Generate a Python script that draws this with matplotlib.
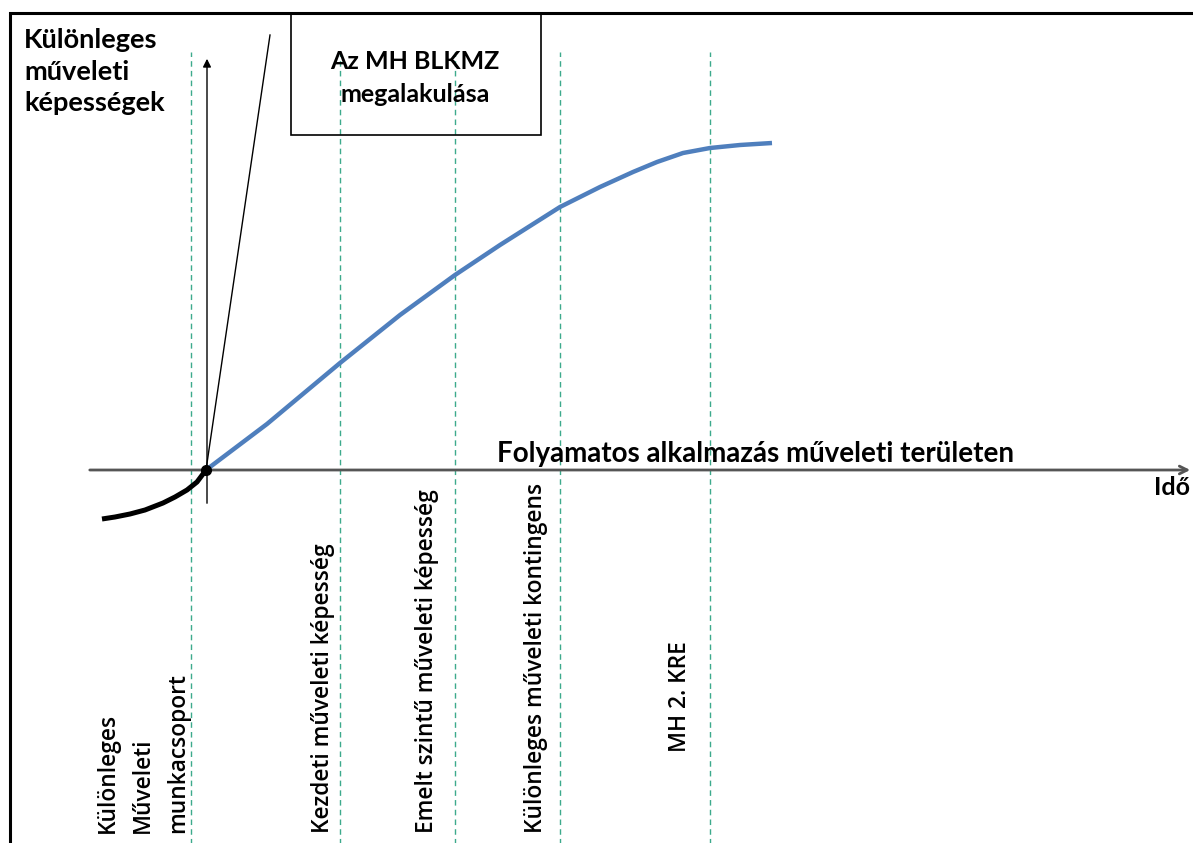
import matplotlib
matplotlib.use("Agg")
import matplotlib.pyplot as plt
from matplotlib.patches import Rectangle

# kepesseg-gorbe (ido, kepesseg), origo = a tengelyek metszespontja
ido = [0, 61, 134, 194, 249, 294, 324, 354, 394, 427, 451, 477, 504, 534, 566]
kepesseg = [0, 46, 107, 155, 195, 225, 244, 263, 283, 298, 308, 317, 322, 325, 327]

# elozmeny szakasz (fekete gorbe)
elozo_ido = [-104, -91, -76, -61, -43, -31, -19, -9, 0]
elozo_kep = [-49, -47, -44, -40, -33, -27, -20, -12, 0]

# merfoldkovek
merfold_x = [-15, 134, 249, 354, 504]
merfold_cimkek = [
    "Különleges\nMűveleti\nmunkacsoport",
    "Kezdeti műveleti képesség",
    "Emelt szintű műveleti képesség",
    "Különleges műveleti kontingens",
    "MH 2. KRE",
]
cimke_x = [-63, 117, 221, 330, 474]
cimke_alj = [-363, -363, -363, -363, -282]

fig = plt.figure(figsize=(11.93, 8.43), dpi=100)
ax = fig.add_axes([0, 0, 1, 1])
ax.set_xlim(-206, 987)
ax.set_ylim(-373, 470)
ax.axis("off")

# keret
ax.add_patch(Rectangle((-196, -400), 1300, 857.5, fill=False, lw=2.2, color="black"))

# szaggatott fuggoleges vonalak
for x in merfold_x:
    ax.plot([x, x], [-380, 418], color="#3daa8c", lw=1.0, ls=(0, (4, 3)), zorder=1)

# x tengely
ax.annotate("", xy=(987, 0), xytext=(-119, 0),
            arrowprops=dict(arrowstyle="->", color="#555555", lw=2.0,
                            mutation_scale=14), zorder=2)
# y tengely
ax.annotate("", xy=(1, 414), xytext=(1, -36),
            arrowprops=dict(arrowstyle="-|>", color="black", lw=1.0,
                            mutation_scale=12), zorder=3)
# vekony ferde vonal
ax.plot([0, 64], [0, 435], color="black", lw=1.0, zorder=3)

ax.plot(ido, kepesseg, color="#4f7fbd", lw=3.2, solid_capstyle="butt",
        solid_joinstyle="round", zorder=4)
ax.plot(elozo_ido, elozo_kep, color="black", lw=3.6, solid_capstyle="butt",
        solid_joinstyle="round", zorder=4)
ax.plot([0], [0], "o", color="black", ms=7, zorder=5)

# doboz
ax.add_patch(Rectangle((85, 335), 250, 122.5, fill=False, lw=1.2, color="black", zorder=3))
ax.text(209, 392, "Az MH BLKMZ\nmegalakulása", ha="center", va="center",
        fontsize=18, fontweight="bold", family="Lato", linespacing=1.5)

ax.text(-182, 442, "Különleges\nműveleti\nképességek", ha="left", va="top",
        fontsize=19.5, fontweight="bold", family="Lato", linespacing=1.38)

ax.text(291, 8, "Folyamatos alkalmazás műveleti területen", ha="left",
        va="baseline", fontsize=20, fontweight="bold", family="Lato")
ax.text(984, -25, "Idő", ha="right", va="baseline", fontsize=18,
        fontweight="bold", family="Lato")

for x, y, s in zip(cimke_x, cimke_alj, merfold_cimkek):
    ax.text(x, y, s, rotation=90, ha="center", va="bottom", fontsize=16.4,
            family="Open Sans", fontweight="semibold", linespacing=1.62,
            multialignment="left")

fig.savefig("out.png", dpi=100)
